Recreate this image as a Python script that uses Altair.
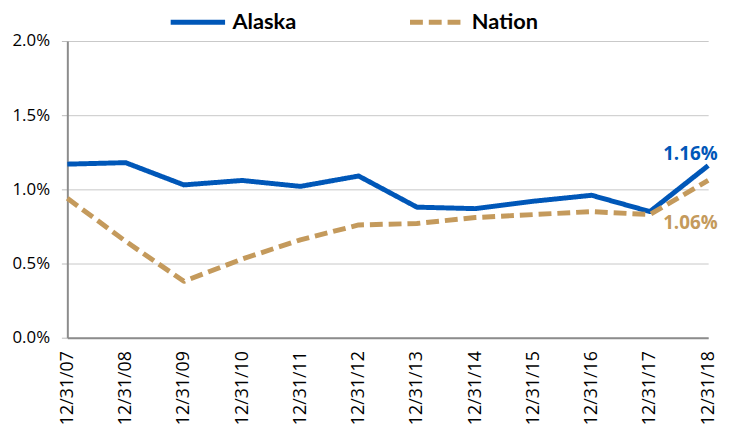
import altair as alt
import pandas as pd

dates = ["12/31/07", "12/31/08", "12/31/09", "12/31/10", "12/31/11", "12/31/12",
         "12/31/13", "12/31/14", "12/31/15", "12/31/16", "12/31/17", "12/31/18"]
alaska = [1.17, 1.18, 1.03, 1.06, 1.02, 1.09, 0.88, 0.87, 0.92, 0.96, 0.85, 1.16]
nation = [0.94, 0.65, 0.38, 0.53, 0.66, 0.76, 0.77, 0.81, 0.83, 0.85, 0.83, 1.06]
series = ["Alaska", "Nation"]
colors = ["#0057B8", "#C49A5C"]

rows = []
for d, a, n in zip(dates, alaska, nation):
    rows.append({"date": d, "series": "Alaska", "value": a / 100})
    rows.append({"date": d, "series": "Nation", "value": n / 100})
df = pd.DataFrame(rows)

x = alt.X("date:N", sort=dates, title=None,
          scale=alt.Scale(type="point", padding=0),
          axis=alt.Axis(labelAngle=270, labelFont="Open Sans", labelFontSize=18,
                        labelColor="#000", labelPadding=13, ticks=False,
                        domainColor="#8c8c8c", domainWidth=2, grid=False))
y = alt.Y("value:Q", title=None,
          scale=alt.Scale(domain=[0, 0.02], nice=False),
          axis=alt.Axis(values=[0, 0.005, 0.01, 0.015, 0.02], format=".1%",
                        labelFont="Open Sans", labelFontSize=17, labelColor="#000",
                        labelPadding=12, tickSize=6, tickColor="#bbbbbb",
                        domainColor="#8c8c8c", domainWidth=2,
                        gridColor="#c8c8c8", gridWidth=1))

base = alt.Chart(df)

lines = base.mark_line(strokeWidth=5, strokeCap="butt", strokeJoin="round").encode(
    x=x, y=y,
    color=alt.Color("series:N", scale=alt.Scale(domain=series, range=colors),
                    legend=alt.Legend(title=None)),
    strokeDash=alt.StrokeDash("series:N",
                              scale=alt.Scale(domain=series, range=[[1, 0], [13, 6]]),
                              legend=alt.Legend(title=None)),
)

last = dates[-1]
lab_a = base.transform_filter(
    (alt.datum.date == last) & (alt.datum.series == "Alaska")
).mark_text(font="Open Sans", fontWeight="bold", fontSize=19, color=colors[0],
            align="center", baseline="alphabetic", dx=-18, dy=-6).encode(
    x=alt.X("date:N", sort=dates), y="value:Q", text=alt.Text("value:Q", format=".2%"))
lab_n = base.transform_filter(
    (alt.datum.date == last) & (alt.datum.series == "Nation")
).mark_text(font="Open Sans", fontWeight="bold", fontSize=19, color=colors[1],
            align="center", baseline="alphabetic", dx=-18, dy=49).encode(
    x=alt.X("date:N", sort=dates), y="value:Q", text=alt.Text("value:Q", format=".2%"))

chart = alt.layer(lines, lab_a, lab_n).properties(
    width=648, height=300,
    padding={"left": 60, "top": 31, "right": 16, "bottom": 95},
    autosize=alt.AutoSizeParams(type="none"),
).configure_view(stroke=None).configure_legend(
    orient="none", legendX=102, legendY=-49, direction="horizontal",
    symbolType="stroke", symbolSize=3025, symbolStrokeWidth=5,
    labelFont="Lato", labelFontSize=22, labelFontWeight="bold",
    labelColor="#000", labelOffset=5, columnPadding=104, padding=0,
)

chart.save("out.html", embed_options={"renderer": "svg", "actions": False})
